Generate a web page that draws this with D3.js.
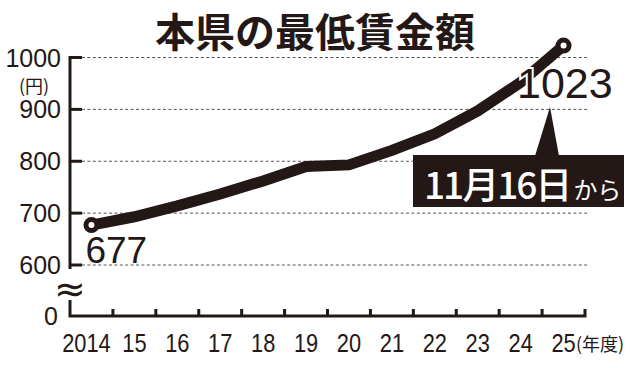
<!DOCTYPE html>
<html>
<head>
<meta charset="utf-8">
<script src="https://cdn.jsdelivr.net/npm/d3@7"></script>
<style>
  html, body { margin: 0; padding: 0; background: #fff; }
  svg { display: block; }
</style>
</head>
<body>
<div class="wage-chart"></div>
<script>
  // values
  var years = ["2014", "15", "16", "17", "18", "19", "20", "21", "22", "23", "24", "25"];
  var wages = [677, 693, 714, 737, 762, 790, 793, 821, 853, 897, 952, 1023];
  var yTicks = [600, 700, 800, 900, 1000];

  var width = 640,
      height = 368;
  var ink = "#231815";
  var numFont = "'Liberation Sans', Arial, sans-serif";
  var jpFont = "'Noto Sans CJK JP', 'Noto Sans CJK SC', sans-serif";

  var x = d3.scaleBand()
          .domain(years)
          .range([70, 585]);
  var y = d3.scaleLinear()
          .domain([600, 1000])
          .range([265, 57.5]);
  var baseY = 316; // the "0" line below the axis break

  var svg = d3.select(".wage-chart").append("svg")
          .attr("width", width)
          .attr("height", height)
          .style("background", "#fff");

  // title
  svg.append("text")
      .attr("x", 315)
      .attr("y", 47)
      .attr("text-anchor", "middle")
      .style("font-family", jpFont)
      .style("font-weight", 700)
      .style("font-size", "40px")
      .style("fill", ink)
      .text("本県の最低賃金額");

  // dashed grid lines
  svg.append("g")
      .selectAll("line")
      .data(yTicks)
      .enter().append("line")
      .attr("x1", 82)
      .attr("x2", 587)
      .attr("y1", function (d) { return y(d); })
      .attr("y2", function (d) { return y(d); })
      .style("stroke", "#555")
      .style("stroke-width", 1)
      .style("stroke-dasharray", "3,2.4");

  // y axis with a break
  var axis = svg.append("g")
          .style("stroke", ink)
          .style("stroke-width", 3)
          .style("fill", "none");
  axis.append("line")
      .attr("x1", 70).attr("x2", 70)
      .attr("y1", y(1000) - 1.5).attr("y2", y(600) + 4);
  axis.append("path")
      .attr("d", "M70," + (baseY - 16) + "V" + baseY + "H" + x.range()[1] + "V" + (baseY - 7));
  axis.selectAll("line.ytick")
      .data(yTicks)
      .enter().append("line")
      .attr("class", "ytick")
      .attr("x1", 70).attr("x2", 82)
      .attr("y1", function (d) { return y(d); })
      .attr("y2", function (d) { return y(d); });
  axis.selectAll("line.xtick")
      .data(years.slice(1))
      .enter().append("line")
      .attr("class", "xtick")
      .attr("x1", function (d) { return x(d); })
      .attr("x2", function (d) { return x(d); })
      .attr("y1", baseY)
      .attr("y2", baseY - 7);

  // break mark
  svg.append("text")
      .attr("x", 70)
      .attr("y", 289)
      .attr("text-anchor", "middle")
      .attr("dy", "0.35em")
      .style("font-family", "'DejaVu Sans', sans-serif")
      .style("font-size", "38px")
      .style("fill", ink)
      .text("≈");

  // y labels
  svg.append("g")
      .selectAll("text")
      .data(yTicks)
      .enter().append("text")
      .attr("x", 61)
      .attr("y", function (d) { return y(d); })
      .attr("dy", "0.36em")
      .attr("text-anchor", "end")
      .style("font-family", numFont)
      .style("font-size", "25px")
      .style("fill", ink)
      .text(function (d) { return d; });
  svg.append("text")
      .attr("x", 58)
      .attr("y", baseY)
      .attr("dy", "0.36em")
      .attr("text-anchor", "end")
      .style("font-family", numFont)
      .style("font-size", "25px")
      .style("fill", ink)
      .text("0");
  svg.append("text")
      .attr("x", 34)
      .attr("y", 93)
      .attr("text-anchor", "middle")
      .style("font-family", jpFont)
      .style("font-size", "18px")
      .style("fill", ink)
      .text("(円)");

  // x labels, squeezed to a narrow face
  svg.append("g")
      .selectAll("text")
      .data(years)
      .enter().append("text")
      .attr("transform", function (d, i) {
        var cx = x(d) + x.bandwidth() / 2 - (i === 0 ? 5 : 0);
        return "translate(" + cx + ",352) scale(0.84,1)";
      })
      .attr("text-anchor", "middle")
      .style("font-family", numFont)
      .style("font-size", "26px")
      .style("fill", ink)
      .text(function (d) { return d; });
  svg.append("text")
      .attr("x", 576)
      .attr("y", 351)
      .style("font-family", jpFont)
      .style("font-size", "18px")
      .style("fill", ink)
      .text("(年度)");

  // the wage line
  var points = years.map(function (d, i) {
    return [x(d) + x.bandwidth() / 2, y(wages[i])];
  });
  svg.append("path")
      .datum(points)
      .attr("d", d3.line())
      .style("fill", "none")
      .style("stroke", ink)
      .style("stroke-width", 11)
      .style("stroke-linejoin", "miter");

  // value labels (drawn over the line with a white halo)
  var last = wages.length - 1;
  svg.append("text")
      .attr("x", points[0][0] - 6)
      .attr("y", 263)
      .style("font-family", numFont)
      .style("font-size", "37px")
      .style("fill", ink)
      .text(wages[0]);
  svg.append("text")
      .attr("x", 517)
      .attr("y", 98)
      .style("font-family", numFont)
      .style("font-size", "43px")
      .style("fill", ink)
      .style("stroke", "#fff")
      .style("stroke-width", 4)
      .style("paint-order", "stroke")
      .text(wages[last]);

  // end markers
  svg.append("g")
      .selectAll("circle")
      .data([points[0], points[last]])
      .enter().append("circle")
      .attr("cx", function (d) { return d[0]; })
      .attr("cy", function (d) { return d[1]; })
      .attr("r", 5.5)
      .style("fill", "#fff")
      .style("stroke", ink)
      .style("stroke-width", 5);

  // callout
  var callout = svg.append("g");
  callout.append("path")
      .attr("d", "M550,107L535,156H559Z")
      .style("fill", ink);
  callout.append("rect")
      .attr("x", 413)
      .attr("y", 155)
      .attr("width", 211)
      .attr("height", 52)
      .style("fill", ink);
  var note = callout.append("text")
      .attr("x", 424)
      .attr("y", 199)
      .style("font-family", jpFont)
      .style("fill", "#fff");
  note.append("tspan")
      .style("font-size", "37px")
      .style("font-weight", 500)
      .attr("letter-spacing", "-2")
      .text("11月16日");
  note.append("tspan")
      .attr("dx", 3)
      .style("font-size", "24px")
      .text("から");
</script>
</body>
</html>
